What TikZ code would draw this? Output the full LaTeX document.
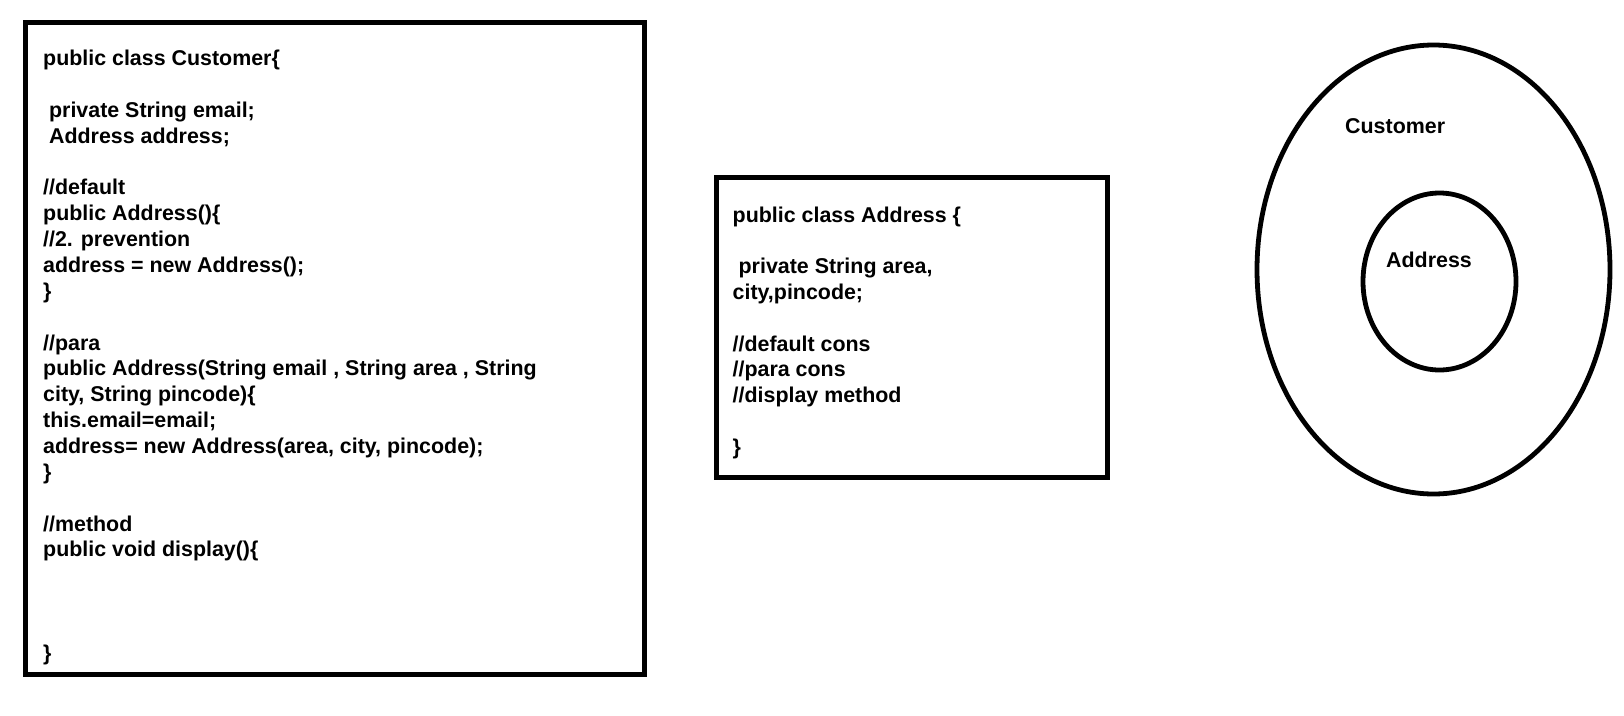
\documentclass[tikz,border=0pt]{standalone}
\usepackage{fontspec}
\setmainfont{Liberation Sans}
\usetikzlibrary{shapes.geometric}
\begin{document}
\begin{tikzpicture}[x=1pt,y=-1pt,
  frame/.style={draw=black, line width=5pt, inner sep=0pt, outer sep=0pt, anchor=north west},
  ring/.style={draw=black, line width=4.8pt, ellipse, inner sep=0pt, outer sep=0pt},
  code/.style={anchor=base west, inner sep=0pt, font=\fontsize{21.4}{25.86}\selectfont\bfseries}]
\useasboundingbox (0,0) rectangle (1624,715);
\fill[white] (0,0) rectangle (1624,715);
% left box
\node[frame, minimum width=619pt, minimum height=652pt] (custbox) at (25,22.5) {};
\node[code] (c0)  at (43,65.5)  {public class Customer\{};
\node[code] (c2)  at (43,117.2) {\ private String email;};
\node[code] (c3)  at (43,143.1) {\ Address address;};
\node[code] (c5)  at (43,194.8) {//default};
\node[code] (c6)  at (43,220.7) {public Address()\{};
\node[code] (c7)  at (43,246.5) {//2. prevention};
\node[code] (c8)  at (43,272.4) {address = new Address();};
\node[code] (c9)  at (43,298.2) {\}};
\node[code] (c11) at (43,350.0) {//para};
\node[code] (c12) at (43,375.8) {public Address(String email , String area , String};
\node[code] (c13) at (43,401.7) {city, String pincode)\{};
\node[code] (c14) at (43,427.5) {this.email=email;};
\node[code] (c15) at (43,453.4) {address= new Address(area, city, pincode);};
\node[code] (c16) at (43,479.3) {\}};
\node[code] (c18) at (43,531.0) {//method};
\node[code] (c19) at (43,556.8) {public void display()\{};
\node[code] (c23) at (43,660.3) {\}};
% middle box
\node[frame, minimum width=391pt, minimum height=300.5pt] (addrbox) at (716,177) {};
\node[code] (a0) at (732.5,222.0) {public class Address \{};
\node[code] (a2) at (732.5,273.6) {\ private String area,};
\node[code] (a3) at (732.5,299.4) {city,pincode;};
\node[code] (a5) at (732.5,351.0) {//default cons};
\node[code] (a6) at (732.5,376.8) {//para cons};
\node[code] (a7) at (732.5,402.6) {//display method};
\node[code] (a9) at (732.5,454.2) {\}};
% ellipses
\node[ring, minimum width=353pt, minimum height=449pt] (outer) at (1433.5,269.5) {};
\node[ring, minimum width=153pt, minimum height=177pt] (inner) at (1439.5,281.5) {};
\node[code] (lcust) at (1345,133.5) {Customer};
\node[code] (laddr) at (1386,267.5) {Address};
\end{tikzpicture}
\end{document}
